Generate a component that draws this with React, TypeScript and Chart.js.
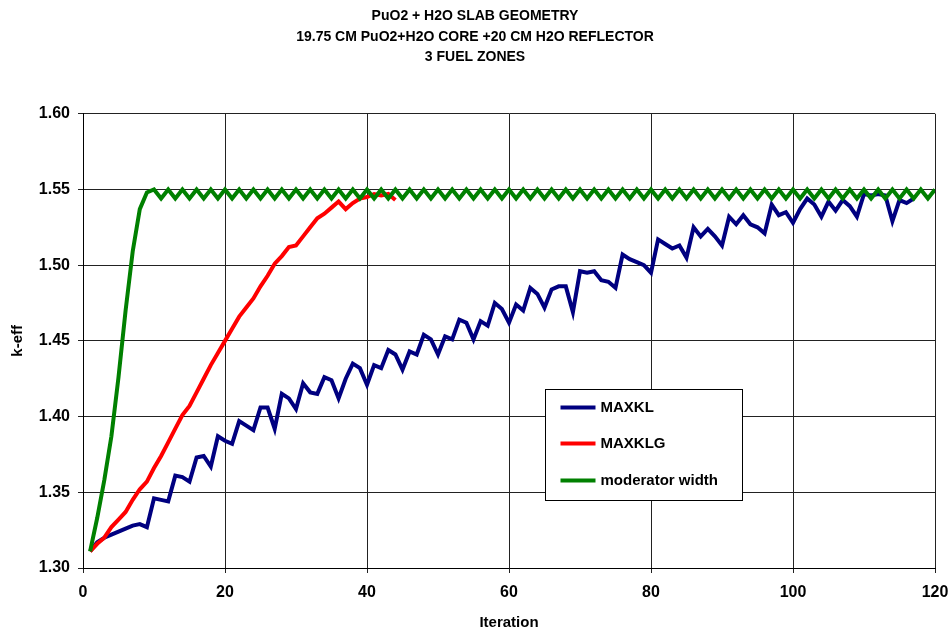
import { useEffect, useRef } from "react";
import { Chart, registerables } from "chart.js";

Chart.register(...registerables);

const titleLines = [
  "PuO2 + H2O SLAB GEOMETRY",
  "19.75 CM PuO2+H2O CORE +20 CM H2O REFLECTOR",
  "3 FUEL ZONES",
];
const seriesNames = ["MAXKL", "MAXKLG", "moderator width"];
const seriesColors = ["#000080", "#FF0000", "#008000"];
const xAxisTitle = "Iteration";
const yAxisTitle = "k-eff";

// MAXKL, iterations 1..117
const maxkl = [
  1.311, 1.317, 1.320, 1.322, 1.324, 1.326, 1.328, 1.329, 1.327, 1.346,
  1.345, 1.344, 1.361, 1.360, 1.357, 1.373, 1.374, 1.367, 1.387, 1.384,
  1.382, 1.397, 1.394, 1.391, 1.406, 1.406, 1.392, 1.415, 1.412, 1.405,
  1.422, 1.416, 1.415, 1.426, 1.424, 1.412, 1.425, 1.435, 1.432, 1.421,
  1.434, 1.432, 1.444, 1.441, 1.431, 1.443, 1.441, 1.454, 1.451, 1.441,
  1.453, 1.451, 1.464, 1.462, 1.451, 1.463, 1.460, 1.475, 1.471, 1.462,
  1.474, 1.470, 1.485, 1.481, 1.472, 1.484, 1.486, 1.486, 1.469, 1.496,
  1.495, 1.496, 1.490, 1.489, 1.485, 1.507, 1.504, 1.502, 1.500, 1.495,
  1.517, 1.514, 1.511, 1.513, 1.505, 1.525, 1.519, 1.524, 1.519, 1.513,
  1.532, 1.527, 1.533, 1.527, 1.525, 1.521, 1.540, 1.533, 1.535, 1.528,
  1.537, 1.544, 1.540, 1.532, 1.542, 1.536, 1.543, 1.539, 1.532, 1.547,
  1.546, 1.547, 1.546, 1.529, 1.543, 1.541, 1.544,
];

// MAXKLG, iterations 1..44
const maxklg = [
  1.311, 1.316, 1.320, 1.327, 1.332, 1.337, 1.345, 1.352, 1.357, 1.366,
  1.374, 1.383, 1.392, 1.401, 1.407, 1.416, 1.425, 1.434, 1.442, 1.450,
  1.458, 1.466, 1.472, 1.478, 1.486, 1.493, 1.501, 1.506, 1.512, 1.513,
  1.519, 1.525, 1.531, 1.534, 1.538, 1.542, 1.537, 1.541, 1.544, 1.545,
  1.547, 1.546, 1.547, 1.543,
];

// moderator width, iterations 1..120
const moderatorWidth = [
  1.311, 1.333, 1.358, 1.387, 1.426, 1.470, 1.509, 1.537, 1.548, 1.550,
  1.544, 1.550, 1.544, 1.550, 1.544, 1.550, 1.544, 1.550, 1.544, 1.550,
  1.544, 1.550, 1.544, 1.550, 1.544, 1.550, 1.544, 1.550, 1.544, 1.550,
  1.544, 1.550, 1.544, 1.550, 1.544, 1.550, 1.544, 1.550, 1.544, 1.550,
  1.544, 1.550, 1.544, 1.550, 1.544, 1.550, 1.544, 1.550, 1.544, 1.550,
  1.544, 1.550, 1.544, 1.550, 1.544, 1.550, 1.544, 1.550, 1.544, 1.550,
  1.544, 1.550, 1.544, 1.550, 1.544, 1.550, 1.544, 1.550, 1.544, 1.550,
  1.544, 1.550, 1.544, 1.550, 1.544, 1.550, 1.544, 1.550, 1.544, 1.550,
  1.544, 1.550, 1.544, 1.550, 1.544, 1.550, 1.544, 1.550, 1.544, 1.550,
  1.544, 1.550, 1.544, 1.550, 1.544, 1.550, 1.544, 1.550, 1.544, 1.550,
  1.544, 1.550, 1.544, 1.550, 1.544, 1.550, 1.544, 1.550, 1.544, 1.550,
  1.544, 1.550, 1.544, 1.550, 1.544, 1.550, 1.544, 1.550, 1.544, 1.550,
];

const xMin = 0;
const xMax = 120;
const xStep = 20;
const yMin = 1.3;
const yMax = 1.6;
const yStep = 0.05;

const FONT = "'Liberation Sans', Arial, sans-serif";

const toPoints = (vals: number[]) => vals.map((y, i) => ({ x: i + 1, y }));

const legendBoxPlugin = {
  id: "legendBox",
  afterDatasetsDraw(chart: any) {
    const { ctx, chartArea: a } = chart;
    const w = a.right - a.left;
    const h = a.bottom - a.top;
    const x0 = Math.round(a.left + 0.5423 * w) + 0.5;
    const x1 = Math.round(a.left + 0.7735 * w) + 0.5;
    const y0 = Math.round(a.top + 0.6066 * h) + 0.5;
    const y1 = Math.round(a.top + 0.8505 * h) + 0.5;
    ctx.save();
    ctx.fillStyle = "#ffffff";
    ctx.fillRect(x0, y0, x1 - x0, y1 - y0);
    ctx.strokeStyle = "#000000";
    ctx.lineWidth = 1;
    ctx.strokeRect(x0, y0, x1 - x0, y1 - y0);
    const rows = [0.162, 0.486, 0.82];
    chart.data.datasets.forEach((ds: any, i: number) => {
      const cy = y0 + (y1 - y0) * rows[i];
      ctx.strokeStyle = ds.borderColor;
      ctx.lineWidth = 4;
      ctx.beginPath();
      ctx.moveTo(x0 + 15, cy);
      ctx.lineTo(x0 + 50, cy);
      ctx.stroke();
      ctx.fillStyle = "#000000";
      ctx.font = `bold 15px ${FONT}`;
      ctx.textBaseline = "middle";
      ctx.textAlign = "left";
      ctx.fillText(ds.label, x0 + 55, cy);
    });
    ctx.restore();
  },
};

export default function App() {
  const ref = useRef<HTMLCanvasElement | null>(null);
  useEffect(() => {
    if (!ref.current) return;
    const seriesData = [maxkl, maxklg, moderatorWidth];
    const orders = [2, 1, 0];
    const chart = new Chart(ref.current, {
      type: "line",
      data: {
        datasets: seriesData.map((vals, i) => ({
          label: seriesNames[i],
          data: toPoints(vals),
          borderColor: seriesColors[i],
          backgroundColor: seriesColors[i],
          borderWidth: 4,
          pointRadius: 0,
          tension: 0,
          fill: false,
          order: orders[i],
        })),
      },
      options: {
        animation: false,
        responsive: false,
        maintainAspectRatio: false,
        layout: { padding: { left: 0, right: 0, top: 0, bottom: 0 } },
        plugins: {
          legend: { display: false },
          tooltip: { enabled: false },
          title: {
            display: true,
            text: titleLines,
            color: "#000",
            font: { family: FONT, size: 14, weight: "bold", lineHeight: 1.47 },
            padding: { top: 6, bottom: 46 },
          },
        },
        scales: {
          x: {
            type: "linear",
            min: xMin,
            max: xMax,
            ticks: {
              stepSize: xStep,
              color: "#000",
              font: { family: FONT, size: 16, weight: "bold" },
              padding: 10,
              maxRotation: 0,
            },
            grid: { color: "#222", lineWidth: 1, tickLength: 5, drawTicks: true },
            border: { display: true, color: "#000", width: 1 },
            title: {
              display: true,
              text: xAxisTitle,
              color: "#000",
              font: { family: FONT, size: 15, weight: "bold" },
              padding: { top: 4, bottom: 1 },
            },
            afterFit: (s: any) => {
              s.height = 65;
              s.paddingRight = 15;
              s.paddingLeft = 0;
            },
          },
          y: {
            type: "linear",
            min: yMin,
            max: yMax,
            ticks: {
              stepSize: yStep,
              color: "#000",
              font: { family: FONT, size: 16, weight: "bold" },
              padding: 8,
              callback: (v: any) => Number(v).toFixed(2),
            },
            grid: { color: "#222", lineWidth: 1, tickLength: 5, drawTicks: true },
            border: { display: true, color: "#000", width: 1 },
            title: {
              display: true,
              text: yAxisTitle,
              color: "#000",
              font: { family: FONT, size: 15, weight: "bold" },
              padding: { top: 9, bottom: 4 },
            },
            afterFit: (s: any) => {
              s.width = 83;
            },
          },
        },
      },
      plugins: [legendBoxPlugin],
    } as any);
    return () => chart.destroy();
  }, []);
  return (
    <div style={{ position: "fixed", left: 0, top: 0, width: 950, height: 633, background: "#fff" }}>
      <canvas ref={ref} width={950} height={633} style={{ display: "block" }} />
    </div>
  );
}
